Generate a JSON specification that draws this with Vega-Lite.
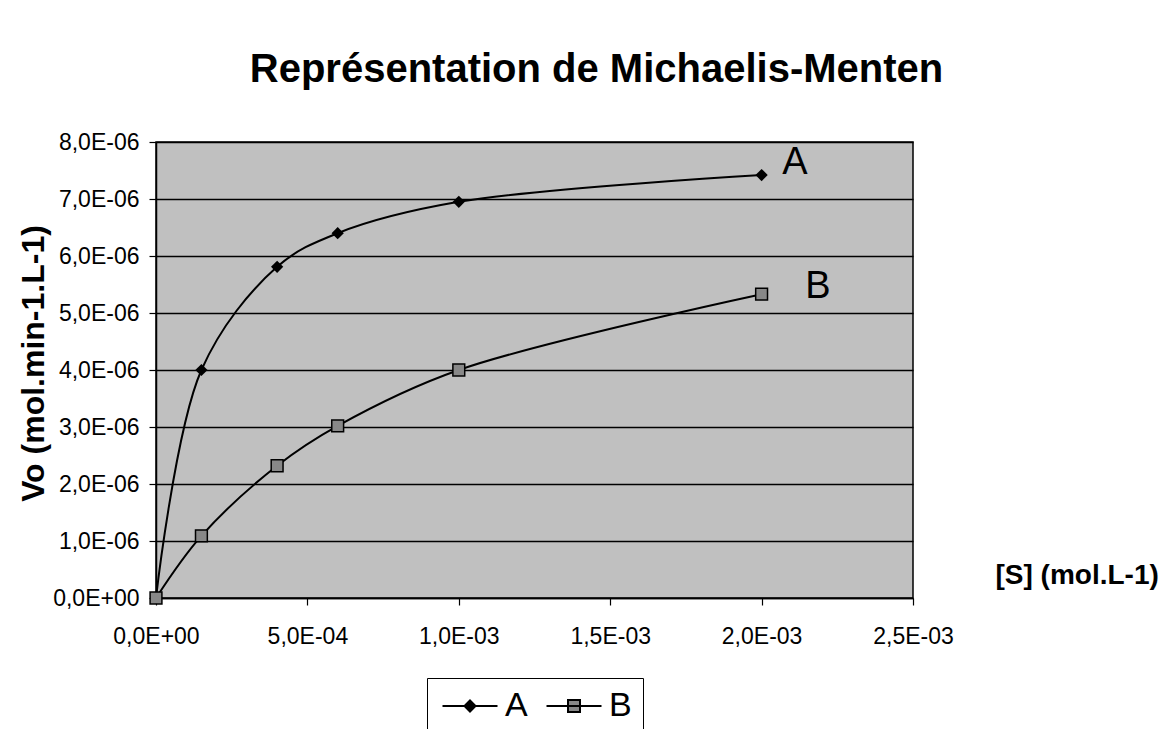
{
  "$schema": "https://vega.github.io/schema/vega-lite/v6.json",
  "width": 757,
  "height": 456,
  "autosize": "none",
  "padding": {"left": 156, "top": 142, "right": 254, "bottom": 131},
  "background": "white",
  "title": {
    "text": "Représentation de Michaelis-Menten",
    "font": "Liberation Sans",
    "fontSize": 40,
    "fontWeight": "bold",
    "color": "black",
    "anchor": "middle",
    "frame": "group",
    "dx": 62,
    "baseline": "alphabetic",
    "offset": 9
  },
  "config": {
    "view": {"fill": "#c0c0c0", "stroke": "black", "strokeWidth": 1.5},
    "font": "Liberation Sans"
  },
  "datasets": {
    "mm": [
      {"serie": "A", "S": 0, "Vo": 0},
      {"serie": "A", "S": 0.00015, "Vo": 0.000004},
      {"serie": "A", "S": 0.0004, "Vo": 0.00000581},
      {"serie": "A", "S": 0.0006, "Vo": 0.0000064},
      {"serie": "A", "S": 0.001, "Vo": 0.00000695},
      {"serie": "A", "S": 0.002, "Vo": 0.00000742},
      {"serie": "B", "S": 0, "Vo": 0},
      {"serie": "B", "S": 0.00015, "Vo": 0.00000109},
      {"serie": "B", "S": 0.0004, "Vo": 0.00000232},
      {"serie": "B", "S": 0.0006, "Vo": 0.00000302},
      {"serie": "B", "S": 0.001, "Vo": 0.000004},
      {"serie": "B", "S": 0.002, "Vo": 0.00000533}
    ],
    "labels": [
      {"name": "A", "S": 0.00211, "Vo": 0.00000763},
      {"name": "B", "S": 0.002186, "Vo": 0.00000546}
    ]
  },
  "encoding": {
    "x": {
      "field": "S",
      "type": "quantitative",
      "scale": {"domain": [0, 0.0025], "nice": false, "zero": true},
      "axis": {
        "values": [0, 0.0005, 0.001, 0.0015, 0.002, 0.0025],
        "labelExpr": "datum.value == 0 ? '0,0E+00' : replace(split(format(datum.value,'.1e'),'e')[0],'.',',') + 'E-' + pad(slice(split(format(datum.value,'.1e'),'e')[1],1),2,'0','left')",
        "grid": false,
        "domainColor": "black",
        "domainWidth": 1.5,
        "tickColor": "black",
        "tickSize": 7,
        "tickWidth": 1.2,
        "labelFont": "Liberation Sans",
        "labelFontSize": 23,
        "labelColor": "black",
        "labelPadding": 20,
        "labelOverlap": false,
        "labelFlush": false,
        "labelAlign": "center",
        "title": "[S] (mol.L-1)",
        "titleFont": "Liberation Sans",
        "titleFontSize": 28,
        "titleFontWeight": "bold",
        "titleColor": "black",
        "titleAlign": "left",
        "titleBaseline": "middle",
        "titleX": 839,
        "titleY": -23
      }
    },
    "y": {
      "field": "Vo",
      "type": "quantitative",
      "scale": {"domain": [0, 0.000008], "nice": false},
      "axis": {
        "values": [0, 0.000001, 0.000002, 0.000003, 0.000004, 0.000005, 0.000006, 0.000007, 0.000008],
        "labelExpr": "datum.value == 0 ? '0,0E+00' : replace(split(format(datum.value,'.1e'),'e')[0],'.',',') + 'E-' + pad(slice(split(format(datum.value,'.1e'),'e')[1],1),2,'0','left')",
        "grid": true,
        "gridColor": "black",
        "gridWidth": 1.4,
        "gridOpacity": 1,
        "domainColor": "black",
        "domainWidth": 1.5,
        "tickColor": "black",
        "tickSize": 7,
        "tickWidth": 1.2,
        "labelFont": "Liberation Sans",
        "labelFontSize": 23,
        "labelColor": "black",
        "labelPadding": 10,
        "labelOverlap": false,
        "labelFlush": false,
        "title": "Vo (mol.min-1.L-1)",
        "titleFont": "Liberation Sans",
        "titleFontSize": 32,
        "titleFontWeight": "bold",
        "titleColor": "black",
        "titleAngle": 270,
        "titleAlign": "center",
        "titleBaseline": "alphabetic",
        "titleX": -113,
        "titleY": 221
      }
    }
  },
  "layer": [
    {
      "data": {"name": "mm"},
      "mark": {"type": "line", "interpolate": "catmull-rom", "strokeWidth": 2},
      "encoding": {
        "stroke": {
          "field": "serie",
          "type": "nominal",
          "scale": {"domain": ["A", "B"], "range": ["black", "black"]},
          "legend": {
            "title": null,
            "orient": "none",
            "legendX": 271,
            "legendY": 536,
            "direction": "horizontal",
            "strokeColor": "black",
            "fillColor": "white",
            "padding": 11,
            "labelFont": "Liberation Sans",
            "labelFontSize": 34,
            "labelColor": "black",
            "symbolSize": 625,
            "labelOffset": 33,
            "columnPadding": 14,
            "encode": {
              "symbols": {
                "update": {
                  "shape": {"signal": "datum.value === 'A' ? 'M-1,0H3.4M1.2,-0.44L1.64,0L1.2,0.44L0.76,0Z' : 'M-1,0H3.4M0.72,-0.48H1.68V0.48H0.72Z'"},
                  "fill": {"signal": "datum.value === 'A' ? 'black' : '#888888'"},
                  "stroke": {"value": "black"},
                  "strokeWidth": {"value": 2},
                  "opacity": {"value": 1}
                }
              }
            }
          }
        }
      }
    },
    {
      "data": {"name": "mm"},
      "transform": [{"filter": "datum.serie === 'A'"}],
      "mark": {"type": "point", "shape": "diamond", "filled": true, "size": 150, "color": "black", "opacity": 1}
    },
    {
      "data": {"name": "mm"},
      "transform": [{"filter": "datum.serie === 'B'"}],
      "mark": {"type": "point", "shape": "square", "filled": true, "size": 140, "fill": "#888888", "stroke": "black", "strokeWidth": 1.5, "opacity": 1}
    },
    {
      "data": {"name": "labels"},
      "mark": {"type": "text", "font": "Liberation Sans", "fontSize": 38, "color": "black", "align": "center", "baseline": "middle"},
      "encoding": {"text": {"field": "name", "type": "nominal"}}
    }
  ]
}
